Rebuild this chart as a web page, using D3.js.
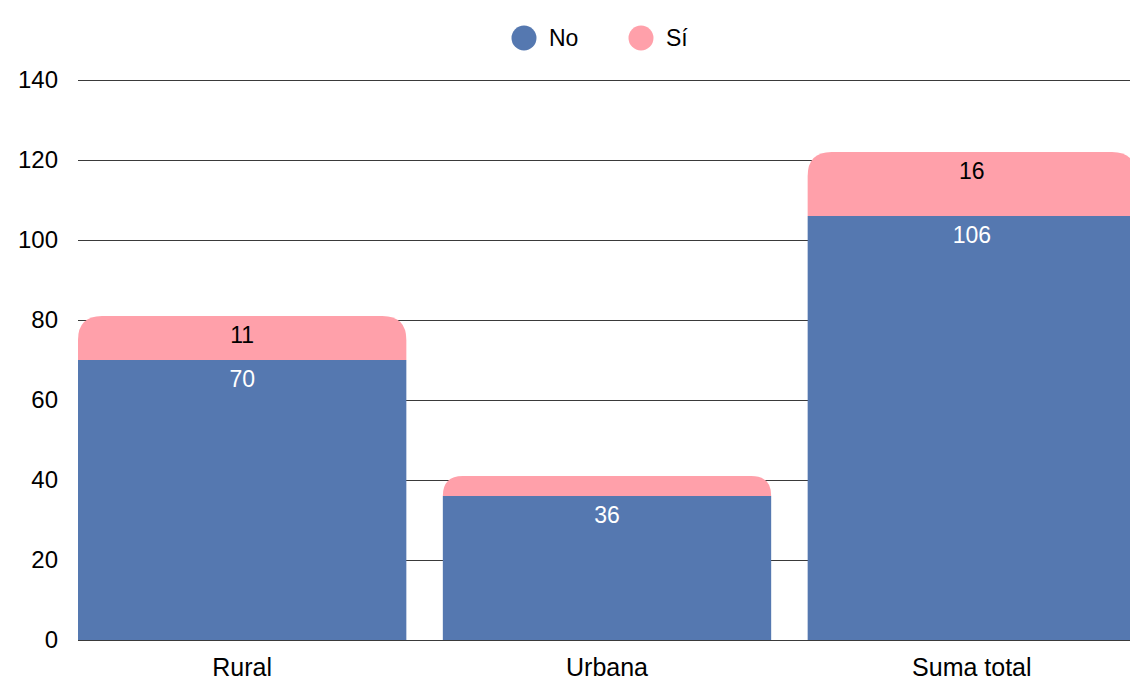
<!DOCTYPE html>
<html>
<head>
<meta charset="utf-8">
<script src="https://cdn.jsdelivr.net/npm/d3@7"></script>
<style>
  html, body { margin: 0; padding: 0; background: #fff; overflow: hidden; }
  svg { display: block; font-family: "Liberation Sans", Arial, sans-serif; }
</style>
</head>
<body>
<svg id="chart" width="1130" height="681"></svg>
<script>
// Stacked bars: No / Sí per area
const categories = ["Rural", "Urbana", "Suma total"];
const seriesNames = ["No", "Sí"];
const noValues = [70, 36, 106];
const siValues = [11, 5, 16];
const showSiLabel = [true, false, true];
const yTicks = [0, 20, 40, 60, 80, 100, 120, 140];

const colors = { "No": "#5578b0", "Sí": "#ffa0aa" };

const svg = d3.select("#chart");
const plotLeft = 78;
const plotBottom = 640;
const plotTop = 80;

const x = d3.scaleBand()
  .domain(categories)
  .range([plotLeft, 1136])
  .paddingInner(0.1)
  .paddingOuter(0);

const y = d3.scaleLinear()
  .domain([0, 140])
  .range([plotBottom, plotTop]);

// gridlines
svg.append("g")
  .selectAll("line")
  .data(yTicks.filter(t => t > 0))
  .join("line")
  .attr("x1", plotLeft)
  .attr("x2", 1130)
  .attr("y1", d => y(d) + 0.5)
  .attr("y2", d => y(d) + 0.5)
  .attr("stroke", "#3a3a3a")
  .attr("stroke-width", 1);

// baseline
svg.append("line")
  .attr("x1", plotLeft).attr("x2", 1130)
  .attr("y1", plotBottom + 0.5).attr("y2", plotBottom + 0.5)
  .attr("stroke", "#3a3a3a");

// y tick labels
svg.append("g")
  .selectAll("text")
  .data(yTicks)
  .join("text")
  .attr("x", 58)
  .attr("y", d => y(d))
  .attr("dy", "0.35em")
  .attr("text-anchor", "end")
  .attr("font-size", 24)
  .attr("fill", "#000")
  .text(d => d);

const rows = categories.map((c, i) => ({ cat: c, No: noValues[i], "Sí": siValues[i], showSi: showSiLabel[i] }));
const stacked = d3.stack().keys(seriesNames)(rows);

function topRounded(x0, y0, w, h, r) {
  r = Math.min(r, h, w / 2);
  return `M${x0},${y0 + h}V${y0 + r}Q${x0},${y0} ${x0 + r},${y0}H${x0 + w - r}Q${x0 + w},${y0} ${x0 + w},${y0 + r}V${y0 + h}Z`;
}

const labelX = cat => x(cat) + x.bandwidth() / 2;

// No segments
svg.append("g")
  .selectAll("rect")
  .data(stacked[0])
  .join("rect")
  .attr("x", d => x(d.data.cat))
  .attr("width", x.bandwidth())
  .attr("y", d => y(d[1]))
  .attr("height", d => y(d[0]) - y(d[1]))
  .attr("fill", colors["No"]);

// Sí segments with rounded top
svg.append("g")
  .selectAll("path")
  .data(stacked[1])
  .join("path")
  .attr("d", d => topRounded(x(d.data.cat), y(d[1]), x.bandwidth(), y(d[0]) - y(d[1]), 24))
  .attr("fill", colors["Sí"]);

// value labels
svg.append("g")
  .selectAll("text")
  .data(stacked[0])
  .join("text")
  .attr("x", d => labelX(d.data.cat))
  .attr("y", d => y(d[1]) + 19)
  .attr("dy", "0.35em")
  .attr("text-anchor", "middle")
  .attr("font-size", 23)
  .attr("fill", "#fff")
  .text(d => d.data.No);

svg.append("g")
  .selectAll("text")
  .data(stacked[1].filter(d => d.data.showSi))
  .join("text")
  .attr("x", d => labelX(d.data.cat))
  .attr("y", d => y(d[1]) + 19)
  .attr("dy", "0.35em")
  .attr("text-anchor", "middle")
  .attr("font-size", 23)
  .attr("fill", "#000")
  .text(d => d.data["Sí"]);

// category labels
svg.append("g")
  .selectAll("text")
  .data(categories)
  .join("text")
  .attr("x", d => labelX(d))
  .attr("y", 667)
  .attr("dy", "0.35em")
  .attr("text-anchor", "middle")
  .attr("font-size", 25)
  .attr("fill", "#000")
  .text(d => d);

// legend
const legendX = [524, 641];
const legend = svg.append("g")
  .selectAll("g")
  .data(seriesNames)
  .join("g")
  .attr("transform", (d, i) => `translate(${legendX[i]},38)`);
legend.append("circle").attr("r", 12.5).attr("fill", d => colors[d]);
legend.append("text")
  .attr("x", 25)
  .attr("dy", "0.35em")
  .attr("font-size", 23)
  .attr("fill", "#000")
  .text(d => d);
</script>
</body>
</html>
